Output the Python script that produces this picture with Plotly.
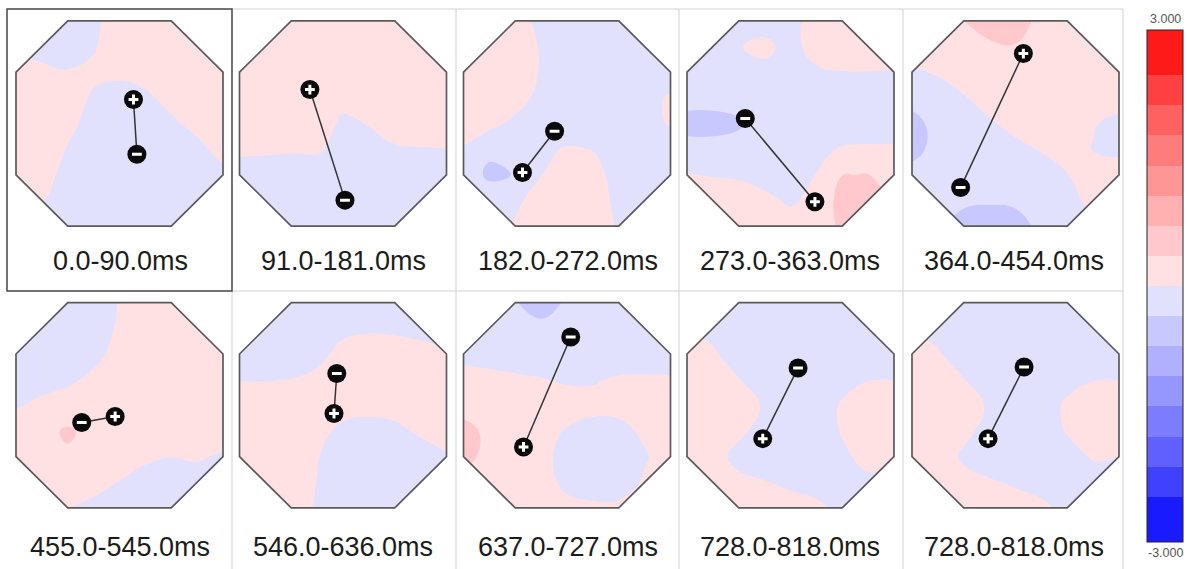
import plotly.graph_objects as go

W, H = 1187, 569

# ---------------------------------------------------------------- data
labels = ["0.0-90.0ms", "91.0-181.0ms", "182.0-272.0ms", "273.0-363.0ms", "364.0-454.0ms",
          "455.0-545.0ms", "546.0-636.0ms", "637.0-727.0ms", "728.0-818.0ms", "728.0-818.0ms"]

# sampling grid of every map (rows of the maps run from top to bottom)
grid_x = [-1.0, -0.75, -0.5, -0.25, 0.0, 0.25, 0.5, 0.75, 1.0]
grid_y = [1.0, 0.75, 0.5, 0.25, 0.0, -0.25, -0.5, -0.75, -1.0]

map_01 = [
    [-0.2, -0.3, -0.3, -0.08, 0.2, 0.3, 0.3, 0.3, 0.3],
    [-0.05, -0.15, -0.25, -0.04, 0.25, 0.3, 0.3, 0.3, 0.3],
    [0.15, 0.09, 0.03, 0.08, 0.08, 0.12, 0.3, 0.3, 0.3],
    [0.3, 0.3, 0.18, -0.05, -0.16, -0.06, 0.11, 0.3, 0.3],
    [0.3, 0.3, 0.1, -0.14, -0.3, -0.3, -0.06, 0.1, 0.3],
    [0.3, 0.22, -0.02, -0.25, -0.3, -0.3, -0.3, -0.09, 0.12],
    [0.3, 0.12, -0.1, -0.3, -0.3, -0.3, -0.3, -0.2, -0.08],
    [0.1, 0.02, -0.15, -0.3, -0.3, -0.3, -0.3, -0.3, -0.3],
    [-0.1, -0.2, -0.3, -0.3, -0.3, -0.3, -0.3, -0.3, -0.3],
]
map_02 = [
    [0.3, 0.3, 0.3, 0.3, 0.3, 0.3, 0.3, 0.3, 0.3],
    [0.3, 0.3, 0.3, 0.3, 0.3, 0.3, 0.3, 0.3, 0.3],
    [0.3, 0.3, 0.3, 0.3, 0.3, 0.3, 0.3, 0.3, 0.3],
    [0.3, 0.3, 0.3, 0.3, 0.13, 0.26, 0.3, 0.3, 0.3],
    [0.3, 0.3, 0.3, 0.22, -0.08, 0.02, 0.2, 0.22, 0.24],
    [0.07, 0.06, 0.04, 0.05, -0.12, -0.14, -0.05, -0.02, -0.01],
    [-0.17, -0.18, -0.2, -0.22, -0.24, -0.28, -0.28, -0.26, -0.25],
    [-0.3, -0.3, -0.3, -0.3, -0.3, -0.3, -0.3, -0.3, -0.3],
    [-0.3, -0.3, -0.3, -0.3, -0.3, -0.3, -0.3, -0.3, -0.3],
]
map_03 = [
    [0.2, 0.2, 0.15, -0.1, -0.3, -0.3, -0.3, -0.3, -0.3],
    [0.2, 0.25, 0.2, -0.03, -0.28, -0.3, -0.3, -0.3, -0.3],
    [0.3, 0.3, 0.22, -0.03, -0.28, -0.3, -0.3, -0.3, -0.24],
    [0.3, 0.3, 0.14, -0.1, -0.3, -0.3, -0.3, -0.14, 0.05],
    [0.2, 0.1, -0.08, -0.2, -0.3, -0.3, -0.22, -0.12, 0.03],
    [-0.03, -0.3, -0.25, -0.1, 0.04, -0.01, -0.15, -0.3, -0.25],
    [-0.15, -0.45, -0.36, -0.01, 0.25, 0.12, -0.13, -0.3, -0.3],
    [-0.2, -0.15, -0.06, 0.13, 0.3, 0.15, -0.08, -0.3, -0.3],
    [-0.2, -0.1, 0.03, 0.25, 0.3, 0.25, -0.05, -0.2, -0.3],
]
map_04 = [
    [-0.2, -0.25, -0.2, -0.18, -0.1, 0.13, 0.3, 0.3, 0.3],
    [-0.25, -0.25, -0.02, 0.1, -0.14, 0.17, 0.22, 0.24, 0.24],
    [-0.3, -0.3, -0.14, -0.11, -0.2, -0.06, -0.01, -0.01, -0.02],
    [-0.3, -0.3, -0.3, -0.3, -0.3, -0.3, -0.3, -0.3, -0.3],
    [-0.45, -0.45, -0.4, -0.3, -0.3, -0.3, -0.22, -0.2, -0.19],
    [-0.3, -0.3, -0.3, -0.3, -0.26, -0.08, 0.03, 0.05, 0.05],
    [0.01, -0.02, -0.05, -0.15, -0.24, 0.01, 0.37, 0.38, 0.25],
    [0.2, 0.2, 0.2, 0.09, -0.06, 0.12, 0.5, 0.5, 0.3],
    [0.2, 0.25, 0.3, 0.25, 0.18, 0.3, 0.4, 0.4, 0.3],
]
map_05 = [
    [0.2, 0.25, 0.37, 0.5, 0.5, 0.3, 0.3, 0.3, 0.3],
    [0.15, 0.28, 0.3, 0.33, 0.36, 0.3, 0.3, 0.3, 0.3],
    [-0.06, 0.04, 0.2, 0.3, 0.3, 0.3, 0.3, 0.3, 0.3],
    [-0.3, -0.2, -0.03, 0.17, 0.3, 0.3, 0.3, 0.2, 0.17],
    [-0.45, -0.3, -0.2, -0.05, 0.12, 0.3, 0.3, 0.03, -0.12],
    [-0.45, -0.3, -0.3, -0.25, -0.1, 0.03, 0.14, -0.02, -0.1],
    [-0.3, -0.3, -0.3, -0.3, -0.3, -0.2, -0.01, 0.2, 0.2],
    [-0.3, -0.3, -0.34, -0.35, -0.34, -0.3, -0.1, 0.08, 0.1],
    [-0.3, -0.35, -0.45, -0.5, -0.45, -0.33, -0.2, -0.05, 0.05],
]
map_06 = [
    [-0.3, -0.3, -0.3, -0.2, 0.02, 0.25, 0.3, 0.3, 0.3],
    [-0.3, -0.3, -0.3, -0.18, 0.05, 0.3, 0.3, 0.3, 0.3],
    [-0.3, -0.3, -0.25, -0.1, 0.13, 0.3, 0.3, 0.3, 0.3],
    [-0.25, -0.15, -0.07, 0.08, 0.25, 0.3, 0.3, 0.3, 0.3],
    [-0.04, 0.09, 0.18, 0.3, 0.3, 0.3, 0.3, 0.3, 0.3],
    [0.2, 0.3, 0.41, 0.3, 0.3, 0.3, 0.24, 0.28, 0.2],
    [0.3, 0.3, 0.34, 0.3, 0.24, 0.08, 0.01, 0.05, -0.05],
    [0.25, 0.3, 0.25, 0.13, -0.01, -0.17, -0.25, -0.2, -0.25],
    [0.2, 0.2, 0.01, -0.1, -0.25, -0.3, -0.3, -0.3, -0.3],
]
map_07 = [
    [-0.3, -0.3, -0.3, -0.3, -0.3, -0.28, -0.3, -0.3, -0.3],
    [-0.3, -0.3, -0.3, -0.3, -0.1, -0.05, -0.07, -0.12, -0.18],
    [-0.25, -0.27, -0.24, -0.12, 0.13, 0.19, 0.18, 0.13, 0.07],
    [-0.01, -0.02, 0.01, 0.1, 0.3, 0.3, 0.3, 0.3, 0.3],
    [0.24, 0.22, 0.22, 0.3, 0.15, 0.11, 0.15, 0.3, 0.3],
    [0.3, 0.3, 0.3, 0.12, -0.09, -0.13, -0.09, 0.06, 0.2],
    [0.3, 0.3, 0.24, 0.03, -0.28, -0.3, -0.3, -0.18, -0.04],
    [0.3, 0.3, 0.24, -0.01, -0.3, -0.3, -0.3, -0.3, -0.25],
    [0.3, 0.3, 0.2, -0.04, -0.3, -0.3, -0.3, -0.3, -0.3],
]
map_08 = [
    [-0.3, -0.3, -0.36, -0.5, -0.34, -0.3, -0.3, -0.3, -0.3],
    [-0.3, -0.3, -0.3, -0.3, -0.3, -0.3, -0.3, -0.3, -0.3],
    [-0.1, -0.14, -0.18, -0.22, -0.28, -0.27, -0.2, -0.19, -0.2],
    [0.13, 0.1, 0.06, 0.02, -0.05, -0.03, 0.04, 0.05, 0.04],
    [0.25, 0.3, 0.3, 0.25, 0.19, 0.1, 0.13, 0.3, 0.3],
    [0.48, 0.3, 0.3, 0.17, -0.04, -0.12, -0.12, 0.08, 0.3],
    [0.45, 0.3, 0.3, 0.13, -0.15, -0.3, -0.3, -0.04, 0.2],
    [0.3, 0.3, 0.3, 0.17, -0.1, -0.22, -0.2, 0.05, 0.25],
    [0.3, 0.3, 0.25, 0.25, 0.12, 0.08, 0.09, 0.2, 0.3],
]
map_09 = [
    [-0.2, -0.3, -0.3, -0.3, -0.3, -0.3, -0.3, -0.3, -0.3],
    [-0.05, -0.08, -0.3, -0.3, -0.3, -0.3, -0.3, -0.3, -0.3],
    [0.25, 0.04, -0.15, -0.3, -0.3, -0.3, -0.3, -0.25, -0.25],
    [0.3, 0.2, 0.01, -0.17, -0.3, -0.3, -0.12, -0.02, -0.01],
    [0.3, 0.3, 0.18, -0.04, -0.3, -0.2, 0.04, 0.3, 0.24],
    [0.3, 0.3, 0.07, -0.12, -0.3, -0.2, 0.03, 0.3, 0.3],
    [0.3, 0.13, -0.1, -0.25, -0.3, -0.3, -0.09, 0.15, 0.1],
    [0.3, 0.3, 0.08, 0.02, -0.07, -0.15, -0.3, -0.1, -0.15],
    [0.3, 0.3, 0.3, 0.25, 0.14, 0.08, -0.1, -0.3, -0.3],
]
map_10 = [
    [-0.2, -0.3, -0.3, -0.3, -0.3, -0.3, -0.3, -0.3, -0.3],
    [-0.05, -0.1, -0.3, -0.3, -0.3, -0.3, -0.3, -0.3, -0.3],
    [0.25, 0.03, -0.17, -0.3, -0.3, -0.3, -0.3, -0.25, -0.25],
    [0.3, 0.2, 0.01, -0.18, -0.3, -0.3, -0.12, -0.02, -0.01],
    [0.3, 0.3, 0.18, -0.05, -0.3, -0.19, 0.06, 0.3, 0.24],
    [0.3, 0.3, 0.09, -0.12, -0.3, -0.22, 0.03, 0.3, 0.3],
    [0.3, 0.2, -0.06, -0.25, -0.3, -0.3, -0.15, 0.04, 0.02],
    [0.3, 0.3, 0.12, 0.05, -0.05, -0.14, -0.3, -0.2, -0.25],
    [0.3, 0.3, 0.3, 0.27, 0.16, 0.08, -0.1, -0.3, -0.3],
]
maps = [map_01, map_02, map_03, map_04, map_05, map_06, map_07, map_08, map_09, map_10]

# dipole poles (map coordinates)
pos_x = [0.135, -0.32, -0.43, 0.236, 0.076, -0.042, -0.087, -0.42, -0.268, -0.265]
pos_y = [0.234, 0.331, -0.477, -0.763, 0.682, -0.109, -0.08, -0.406, -0.325, -0.325]
neg_x = [0.168, 0.019, -0.12, -0.437, -0.53, -0.365, -0.06, 0.036, 0.073, 0.083]
neg_y = [-0.299, -0.747, -0.075, 0.049, -0.623, -0.167, 0.31, 0.666, 0.364, 0.373]

# contour levels and the colour of each band (lowest band first)
level_start, level_end, level_step = -3.0, 3.0, 0.375
band_colors = ["#1a1aff", "#4040ff", "#6060ff", "#7c7cff", "#9696ff", "#b0b0ff", "#c8c8ff", "#e1e1fd",
               "#ffe1e4", "#ffc8cc", "#ffb0b0", "#ff9696", "#ff7c7c", "#ff6060", "#ff4040", "#ff1a1a"]
scale_labels = ["3.000", "-3.000"]

# ---------------------------------------------------------------- layout helpers
col_cx = [119.5, 343.0, 567.0, 790.5, 1015.5]
row_cy = [123.5, 405.3]
label_cx = [120.0, 343.0, 567.5, 789.5, 1013.5]
label_cy = [260.5, 546.5]
HW, HH = 103.5, 102.6
PAD = 1.02          # axis range slightly wider than the sampled square


def px(x):
    return x / W


def py(y):
    return 1 - y / H


nb = len(band_colors)
colorscale = [[0, band_colors[0]]] + [[(k + 1) / (nb + 1), c] for k, c in enumerate(band_colors)] + [[1, band_colors[-1]]]

fig = go.Figure()
shapes = []
annotations = []

octagon = "M -0.5 1 L 0.5 1 L 1 0.5 L 1 -0.5 L 0.5 -1 L -0.5 -1 L -1 -0.5 L -1 0.5 Z"
corners = [
    "M -1.06 1.06 L -0.44 1.06 L -1.06 0.44 Z",
    "M 1.06 1.06 L 0.44 1.06 L 1.06 0.44 Z",
    "M 1.06 -1.06 L 0.44 -1.06 L 1.06 -0.44 Z",
    "M -1.06 -1.06 L -0.44 -1.06 L -1.06 -0.44 Z",
]

for i in range(10):
    r, c = divmod(i, 5)
    sfx = "" if i == 0 else str(i + 1)
    xa, ya = "x" + sfx, "y" + sfx
    cx, cy = col_cx[c], row_cy[r]
    fig.update_layout(**{
        "xaxis" + sfx: dict(domain=[px(cx - HW * PAD), px(cx + HW * PAD)], range=[-PAD, PAD], visible=False,
                            anchor=ya, fixedrange=True),
        "yaxis" + sfx: dict(domain=[py(cy + HH * PAD), py(cy - HH * PAD)], range=[-PAD, PAD], visible=False,
                            anchor=xa, fixedrange=True),
    })

    cb = dict(x=px(1147), xanchor="left", y=py(286), yanchor="middle",
              lenmode="pixels", len=512, thicknessmode="pixels", thickness=36,
              outlinecolor="#222", outlinewidth=1, showticklabels=False, ticks="",
              xpad=0, ypad=0)
    fig.add_trace(go.Contour(
        x=grid_x, y=grid_y[::-1], z=maps[i][::-1], xaxis=xa, yaxis=ya,
        autocontour=False,
        contours=dict(start=level_start, end=level_end, size=level_step, coloring="fill", showlines=False),
        line=dict(width=0, smoothing=1.3),
        colorscale=colorscale, showscale=(i == 0), colorbar=cb, hoverinfo="skip",
    ))
    # dipole
    fig.add_trace(go.Scatter(x=[pos_x[i], neg_x[i]], y=[pos_y[i], neg_y[i]], mode="lines",
                             line=dict(color="#333333", width=1.5), xaxis=xa, yaxis=ya,
                             hoverinfo="skip", showlegend=False))
    fig.add_trace(go.Scatter(x=[pos_x[i], neg_x[i]], y=[pos_y[i], neg_y[i]], mode="markers",
                             marker=dict(symbol="circle", size=19, color="#0a0a0a", line=dict(width=0)),
                             xaxis=xa, yaxis=ya, hoverinfo="skip", showlegend=False))
    fig.add_trace(go.Scatter(x=[pos_x[i]], y=[pos_y[i]], mode="markers",
                             marker=dict(symbol="cross-thin", size=7, line=dict(color="white", width=3)),
                             xaxis=xa, yaxis=ya, hoverinfo="skip", showlegend=False))
    fig.add_trace(go.Scatter(x=[neg_x[i]], y=[neg_y[i]], mode="markers",
                             marker=dict(symbol="line-ew", size=7, line=dict(color="white", width=3)),
                             xaxis=xa, yaxis=ya, hoverinfo="skip", showlegend=False))

    for p in corners:
        shapes.append(dict(type="path", path=p, xref=xa, yref=ya, fillcolor="white",
                           line=dict(width=0), layer="above"))
    shapes.append(dict(type="path", path=octagon, xref=xa, yref=ya, line=dict(color="#5a5a5a", width=1.7),
                       layer="above"))

    annotations.append(dict(x=px(label_cx[c]), y=py(label_cy[r]), xref="paper", yref="paper",
                            text=labels[i], showarrow=False, xanchor="center", yanchor="middle",
                            font=dict(family="Arial, Liberation Sans, sans-serif", size=27, color="#1c1c1c")))

# panel frames
grey = dict(color="#d2d2d2", width=1)
for y in (9, 291):
    shapes.append(dict(type="line", xref="paper", yref="paper", x0=px(232), x1=px(1123), y0=py(y), y1=py(y), line=grey))
for x in (456, 679, 903, 1123):
    shapes.append(dict(type="line", xref="paper", yref="paper", x0=px(x), x1=px(x), y0=py(9), y1=py(569), line=grey))
shapes.append(dict(type="line", xref="paper", yref="paper", x0=px(232), x1=px(232), y0=py(291), y1=py(569), line=grey))
shapes.append(dict(type="rect", xref="paper", yref="paper", x0=px(7), x1=px(232), y0=py(291), y1=py(9),
                   line=dict(color="#454545", width=1.5)))

# colour scale end labels
annotations.append(dict(x=px(1165), y=py(19), xref="paper", yref="paper", text=scale_labels[0], showarrow=False,
                        xanchor="center", yanchor="middle",
                        font=dict(family="Arial, Liberation Sans, sans-serif", size=12.5, color="#555555")))
annotations.append(dict(x=px(1165), y=py(553), xref="paper", yref="paper", text=scale_labels[1], showarrow=False,
                        xanchor="center", yanchor="middle",
                        font=dict(family="Arial, Liberation Sans, sans-serif", size=12.5, color="#555555")))

fig.update_layout(width=W, height=H, margin=dict(l=0, r=0, t=0, b=0, autoexpand=False),
                  paper_bgcolor="white", plot_bgcolor="white", showlegend=False,
                  shapes=shapes, annotations=annotations)

fig.write_html("out.html")
